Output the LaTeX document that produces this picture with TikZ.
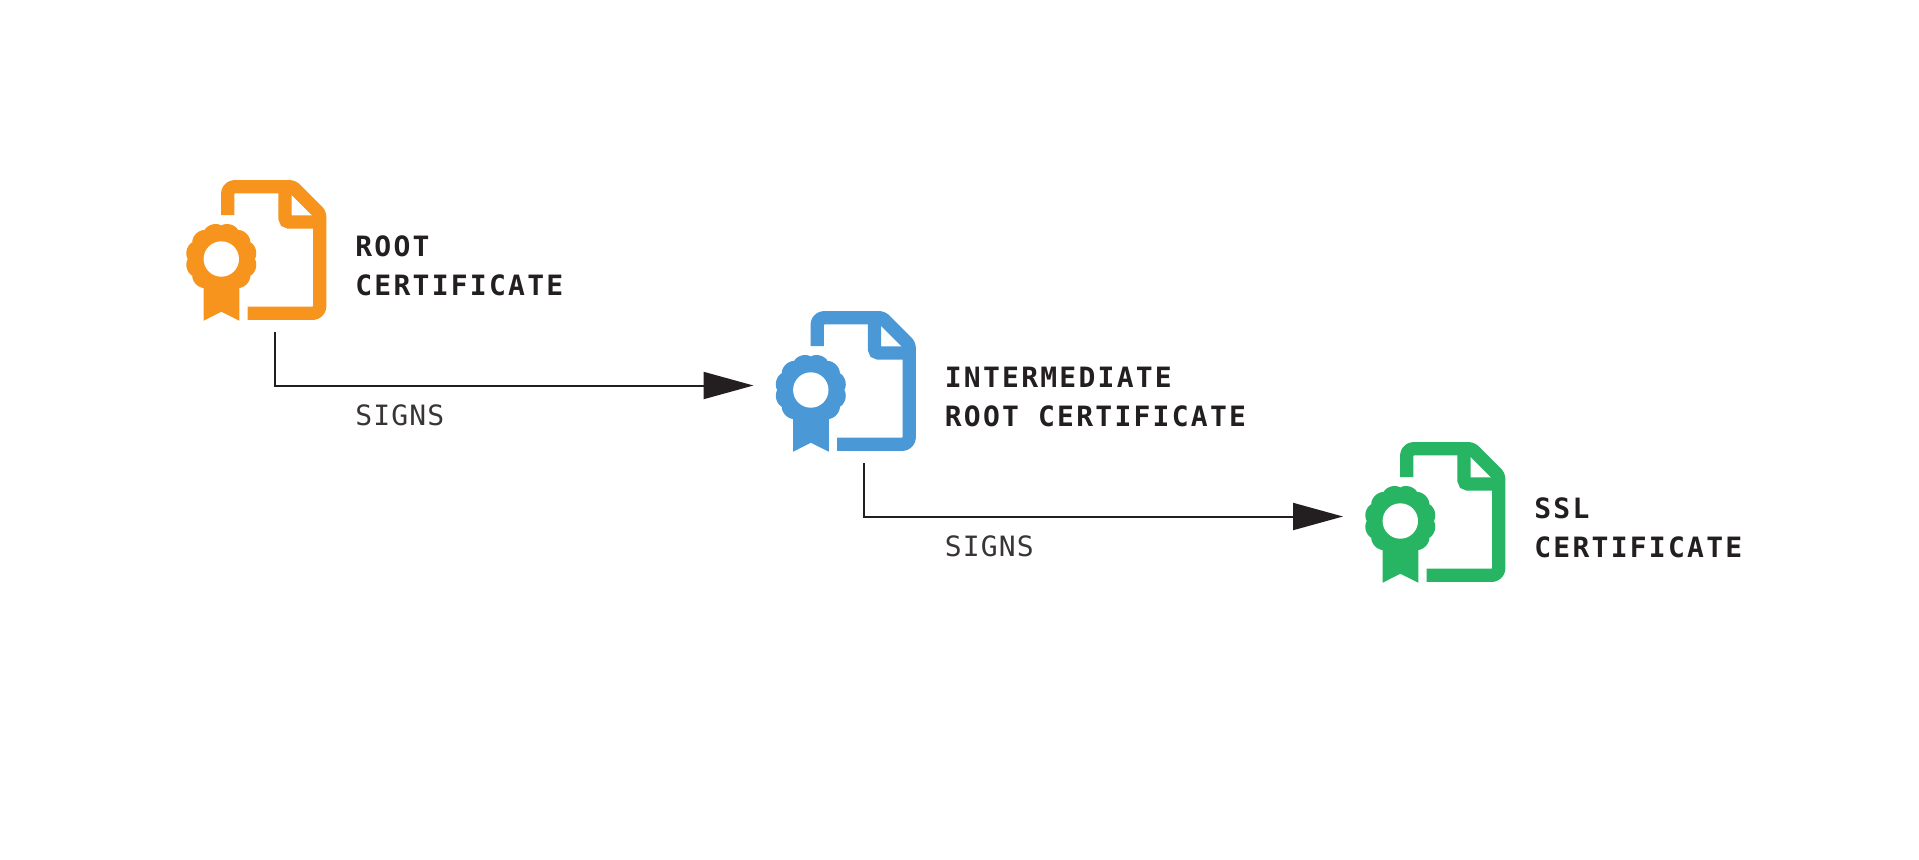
\documentclass[tikz,border=0pt]{standalone}
\usepackage{fontspec}
\setmonofont{DejaVu Sans Mono}[LetterSpace=8]
\newfontfamily\signfont{DejaVu Sans Mono}[LetterSpace=4]
\usetikzlibrary{arrows.meta}
\definecolor{certorange}{HTML}{F7941E}
\definecolor{certblue}{HTML}{4A98D6}
\definecolor{certgreen}{HTML}{27B463}
\definecolor{ink}{HTML}{231F20}
\newcommand{\certicon}[4]{%
  \node[iconbox] (#1) at (#2+70,#3+70.5) {};
  \begin{scope}[shift={(#2,#3)}]
    \draw[color=#4,line width=6.67pt,line join=round]
      (41.7,35) [rounded corners=3.5pt] -- (41.7,6.7) [rounded corners=1.5pt] -- (106.7,6.7) -- (133.7,33.7) [rounded corners=3.5pt] -- (133.7,133.3) -- (61.7,133.3);
    \draw[color=#4,line width=6.67pt,rounded corners=2pt]
      (99,6.7) -- (99,42) -- (133.7,42);
    \fill[color=#4] (17.7,79) -- (53.3,79) -- (53.3,140.7) -- (35.3,131.7) -- (17.7,140.7) -- cycle;
    \fill[color=#4] plot[domain=0:360,samples=241] ({35.3+(33.4+2.3*pow(abs(sin(6*\x))+0.001,0.7))*cos(\x)},{79+(33.4+2.3*pow(abs(sin(6*\x))+0.001,0.7))*sin(\x)}) -- cycle;
    \fill[white] (35.3,79) circle[radius=17.7];
  \end{scope}
}
\tikzset{
  iconbox/.style={minimum width=70pt,minimum height=70.5pt,inner sep=0pt,outer sep=0pt},
  titletext/.style={font=\ttfamily\bfseries\fontsize{14}{19.5}\selectfont,color=ink,align=left,inner sep=0pt,anchor=base west},
  signtext/.style={font=\signfont\fontsize{14}{19.5}\selectfont,color=ink!90,inner sep=0pt,anchor=base west},
  connector/.style={color=ink,line width=1pt,-{Triangle[length=25pt,width=13.5pt]}}
}
\begin{document}
\begin{tikzpicture}[x=0.5pt,y=-0.5pt]
\useasboundingbox (0,0) rectangle (1919,859);
\fill[white] (0,0) rectangle (1919,859);
\certicon{root}{186}{180}{certorange}
\certicon{inter}{775.5}{311}{certblue}
\certicon{ssl}{1365}{442}{certgreen}
\node[titletext] (t1) at (355,295) {ROOT\\CERTIFICATE};
\node[titletext] (t2) at (944.5,426) {INTERMEDIATE\\ROOT CERTIFICATE};
\node[titletext] (t3) at (1534,557) {SSL\\CERTIFICATE};
\node[signtext] (s1) at (355,425) {SIGNS};
\node[signtext] (s2) at (944.5,556) {SIGNS};
\draw[connector] ([xshift=9.5pt,yshift=-5.5pt]root.south) |- ([xshift=-11pt,yshift=-2pt]inter.west);
\draw[connector] ([xshift=9.25pt,yshift=-5.5pt]inter.south) |- ([xshift=-11pt,yshift=-2pt]ssl.west);
\end{tikzpicture}
\end{document}
